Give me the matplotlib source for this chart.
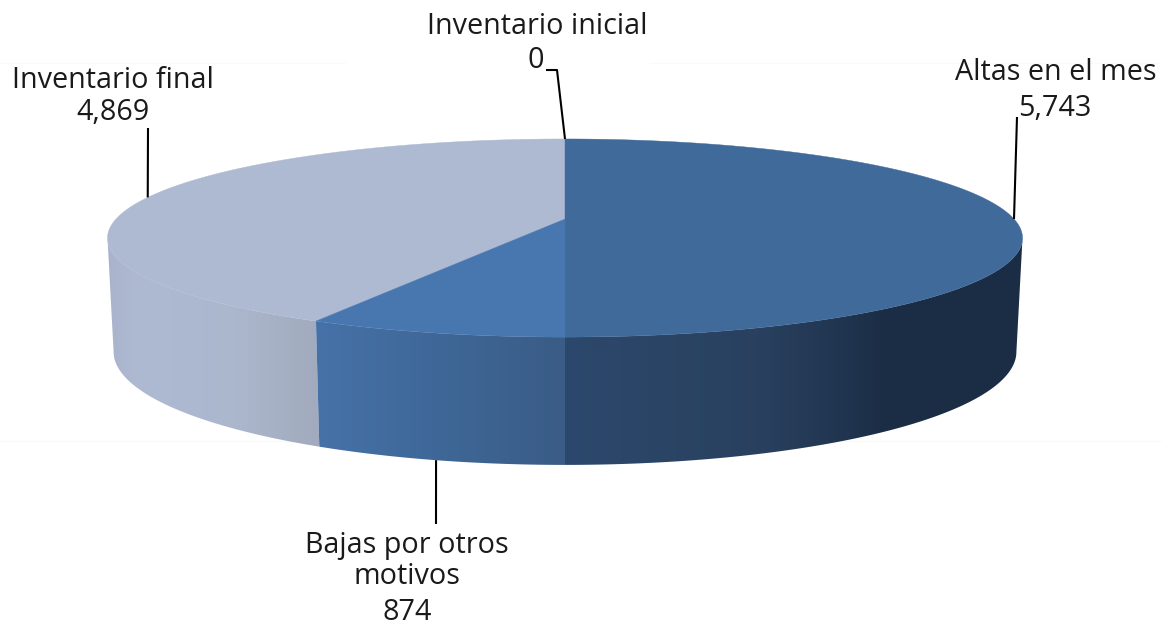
import numpy as np
import matplotlib
matplotlib.use('Agg')
import matplotlib.pyplot as plt
from matplotlib.colors import to_rgb, LinearSegmentedColormap
from matplotlib.patches import Polygon

categories = ['Inventario inicial', 'Altas en el mes', 'Bajas por otros motivos', 'Inventario final']
values = [0, 5743, 874, 4869]
value_labels = ['0', '5,743', '874', '4,869']

plt.rcParams['font.family'] = ['Open Sans', 'DejaVu Sans']

W, H = 1161, 625
fig = plt.figure(figsize=(W / 100, H / 100), dpi=100)
ax = fig.add_axes([0, 0, 1, 1])

# perspective of the disc, in pixels
CX = 565
TOP = dict(y0=219, a=449, p=95.4)
BOT = dict(y0=330, a=443, p=109)
K = 0.192

top_cols = ['#aebad2', '#406a9a', '#4877b0', '#aebad2']
side_grad = [
    None,
    [(0.0, '#2c486c'), (0.42, '#29415f'), (0.62, '#20344f'), (0.7, '#1b2d45'), (1.0, '#1b2d45')],
    [(0.0, '#4672a8'), (0.47, '#3f6898'), (1.0, '#3a5c86')],
    [(0.0, '#a9b4cc'), (0.15, '#aebad2'), (0.6, '#abb7cd'), (1.0, '#a2abbd')],
]


def project(theta, s):
    # theta is clockwise from the back of the disc
    u = np.sin(theta)
    v = np.cos(theta)
    w = 1 + K * v
    return CX + s['a'] * u / w, s['y0'] - s['p'] * v / w


total = sum(values)
edges = np.concatenate([[0], np.cumsum(values)]) / total * 2 * np.pi
# widest point of the disc, the side is only seen in front of it
silh = np.arccos(-K)

for i in [3, 1, 2]:
    a0 = max(edges[i], silh)
    a1 = min(edges[i + 1], 2 * np.pi - silh)
    th = np.linspace(a0, a1, 300)
    xt, yt = project(th, TOP)
    xb, yb = project(th, BOT)
    xs = np.concatenate([xt, xb[::-1]])
    ys = np.concatenate([yt, yb[::-1]])
    poly = Polygon(np.column_stack([xs, ys]), closed=True, fc='none', ec='none')
    ax.add_patch(poly)
    cmap = LinearSegmentedColormap.from_list('side', [(p, to_rgb(c)) for p, c in side_grad[i]])
    grad = np.linspace(0, 1, 256).reshape(1, -1)
    im = ax.imshow(grad, cmap=cmap, extent=[xs.min(), xs.max(), 500, 100], aspect='auto', zorder=2)
    im.set_clip_path(poly)

# top faces
for i in [3, 1, 2]:
    th = np.linspace(edges[i], edges[i + 1], 300)
    xt, yt = project(th, TOP)
    pts = np.column_stack([np.r_[CX, xt], np.r_[TOP['y0'], yt]])
    ax.add_patch(Polygon(pts, closed=True, fc=top_cols[i], ec=top_cols[i], lw=0.3, zorder=3))

# leader lines start from the middle of each slice
mids = (edges[:-1] + edges[1:]) / 2
elbows = [[(557, 70), (546, 70)], [(1017, 117)], [(436, 524)], [(148, 128)]]
for i in range(4):
    s = BOT if i == 2 else TOP
    x, y = project(mids[i], s)
    px = [x] + [e[0] for e in elbows[i]]
    py = [y] + [e[1] for e in elbows[i]]
    ax.plot(px, py, color='black', lw=1.5, zorder=4, solid_capstyle='butt')

label_pos = [(537, 26), (1056, 73), (407, 561), (113, 81)]
label_txt = ['Inventario inicial', 'Altas en el mes', 'Bajas por otros\nmotivos', 'Inventario final']
val_pos = [(536, 60), (1055, 108), (407, 612), (113, 112)]
for i in range(4):
    x, y = label_pos[i]
    ax.text(x, y, label_txt[i], ha='center', va='center', fontsize=20.7, color='#1a1a1a', linespacing=1.11, zorder=5)
    ax.text(val_pos[i][0], val_pos[i][1], value_labels[i], ha='center', va='center', fontsize=20.7, color='#1a1a1a', zorder=5)

# faint ghost lines in the background of the picture
ax.plot([0, W], [441, 441], color='#f8f8f8', lw=1, zorder=1)
ax.plot([0, 345], [63, 63], color='#fafafa', lw=1, zorder=1)
ax.plot([650, W], [63, 63], color='#fafafa', lw=1, zorder=1)

ax.set_xlim(0, W)
ax.set_ylim(H, 0)
ax.axis('off')
fig.savefig('out.png', dpi=100, facecolor='white')
